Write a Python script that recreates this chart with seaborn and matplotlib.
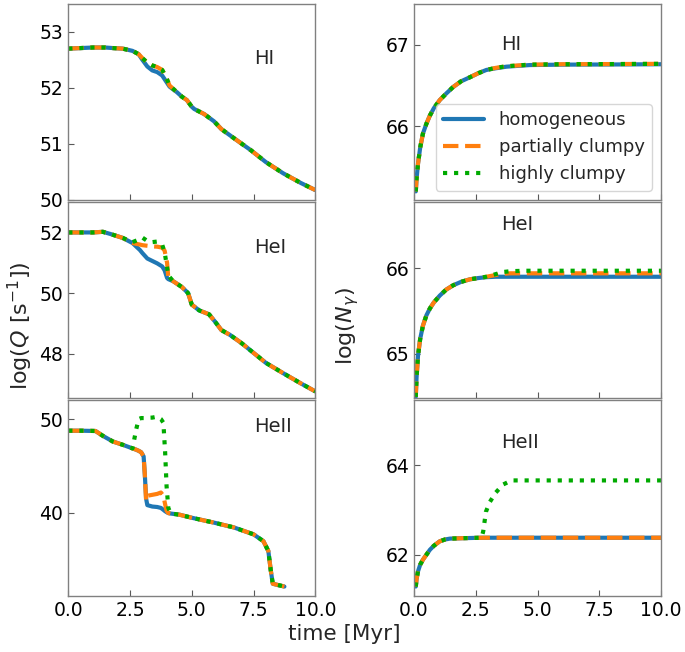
import numpy as np
import pandas as pd
import matplotlib
matplotlib.use("Agg")
import matplotlib.pyplot as plt
from matplotlib.ticker import MultipleLocator, FormatStrFormatter
import seaborn as sns

sns.set_style("white")
plt.rcParams["font.family"] = ["DejaVu Sans"]

# ---- ionising photon rates log(Q) [s^-1] ----
t_q_hi = [0, 0.5, 1.0, 1.5, 1.8, 2.2, 2.6, 2.85, 3.0, 3.2, 3.4, 3.6, 3.8, 3.95,
          4.1, 4.4, 4.6, 4.8, 5.0, 5.1, 5.5, 5.9, 6.2, 6.7, 7.4, 8.0, 8.7, 9.4, 10.0]
q_hi_hom = [52.70, 52.71, 52.72, 52.72, 52.71, 52.70, 52.66, 52.60, 52.50, 52.38,
            52.31, 52.28, 52.22, 52.12, 52.02, 51.92, 51.84, 51.78, 51.66, 51.62,
            51.53, 51.40, 51.26, 51.10, 50.88, 50.67, 50.47, 50.30, 50.17]
q_hi_part = [52.70, 52.71, 52.72, 52.72, 52.71, 52.70, 52.66, 52.60, 52.53, 52.45,
             52.40, 52.37, 52.32, 52.20, 52.04, 51.92, 51.84, 51.78, 51.66, 51.62,
             51.53, 51.40, 51.26, 51.10, 50.88, 50.67, 50.47, 50.30, 50.17]
q_hi_high = [52.70, 52.71, 52.72, 52.72, 52.71, 52.70, 52.66, 52.60, 52.53, 52.45,
             52.40, 52.37, 52.32, 52.20, 52.04, 51.92, 51.84, 51.78, 51.66, 51.62,
             51.53, 51.40, 51.26, 51.10, 50.88, 50.67, 50.47, 50.30, 50.17]

t_q_hei = [0, 0.5, 1.0, 1.4, 1.7, 2.2, 2.6, 2.9, 3.0, 3.2, 3.4, 3.6, 3.8, 3.9, 4.0,
           4.05, 4.25, 4.6, 4.85, 5.0, 5.3, 5.7, 5.95, 6.2, 6.55, 7.0, 7.5, 8.0,
           8.7, 9.4, 10.0]
q_hei_hom = [52.00, 52.00, 52.00, 52.02, 51.95, 51.82, 51.65, 51.42, 51.32, 51.14,
             51.06, 50.98, 50.88, 50.75, 50.50, 50.46, 50.39, 50.20, 50.00, 49.62,
             49.43, 49.30, 49.05, 48.78, 48.62, 48.36, 48.03, 47.70, 47.36, 47.03,
             46.76]
q_hei_part = [52.00, 52.00, 52.00, 52.02, 51.95, 51.82, 51.65, 51.60, 51.58, 51.56,
              51.54, 51.53, 51.50, 51.40, 51.00, 50.50, 50.39, 50.20, 50.00, 49.62,
              49.43, 49.30, 49.05, 48.78, 48.62, 48.36, 48.03, 47.70, 47.36, 47.03,
              46.76]
q_hei_high = [52.00, 52.00, 52.00, 52.02, 51.95, 51.82, 51.68, 51.78, 51.83, 51.72,
              51.68, 51.70, 51.60, 51.35, 50.85, 50.58, 50.39, 50.20, 50.00, 49.62,
              49.43, 49.30, 49.05, 48.78, 48.62, 48.36, 48.03, 47.70, 47.36, 47.03,
              46.76]

t_q_heii = [0, 0.5, 1.1, 1.4, 1.8, 2.2, 2.6, 2.75, 2.85, 2.95, 3.05, 3.1, 3.15, 3.2,
            3.4, 3.6, 3.75, 3.85, 3.92, 3.98, 4.05, 4.15, 4.5, 5.0, 5.9, 6.7, 7.5,
            7.9, 8.1, 8.2, 8.28, 8.75]
q_heii_hom = [48.75, 48.75, 48.72, 48.20, 47.60, 47.25, 46.86, 46.72, 46.60, 46.45,
              46.00, 44.00, 41.50, 40.80, 40.65, 40.60, 40.50, 40.30, 40.15, 40.05,
              39.95, 39.90, 39.78, 39.45, 38.93, 38.42, 37.68, 36.95, 35.90, 33.80,
              32.40, 32.10]
q_heii_part = [48.75, 48.75, 48.72, 48.20, 47.60, 47.25, 46.86, 46.72, 46.60, 46.45,
               46.00, 44.00, 41.30, 41.80, 41.90, 42.00, 42.15, 41.80, 40.90, 40.20,
               39.95, 39.90, 39.78, 39.45, 38.93, 38.42, 37.68, 36.95, 35.90, 33.80,
               32.40, 32.10]
q_heii_high = [48.75, 48.75, 48.72, 48.20, 47.60, 47.25, 46.86, 48.90, 50.00, 50.10,
               50.10, 50.10, 50.12, 50.13, 50.15, 50.25, 50.00, 49.60, 46.50, 42.80,
               40.50, 39.90, 39.78, 39.45, 38.93, 38.42, 37.68, 36.95, 35.90, 33.80,
               32.40, 32.10]

# ---- cumulative photon numbers log(N_gamma) ----
t_n_hi = [0.07, 0.1, 0.16, 0.25, 0.36, 0.5, 0.64, 0.8, 1.04, 1.3, 1.58, 1.9, 2.26,
          2.6, 2.93, 3.3, 3.74, 4.2, 4.69, 6.0, 8.0, 10.0]
n_hi_hom = [65.20, 65.35, 65.54, 65.74, 65.91, 66.03, 66.13, 66.22, 66.32, 66.40,
            66.48, 66.55, 66.60, 66.65, 66.69, 66.71, 66.73, 66.74, 66.75, 66.755,
            66.757, 66.76]
n_hi_part = [65.20, 65.35, 65.54, 65.74, 65.91, 66.03, 66.13, 66.22, 66.32, 66.40,
             66.48, 66.55, 66.60, 66.65, 66.69, 66.715, 66.735, 66.745, 66.755,
             66.76, 66.762, 66.765]
n_hi_high = [65.20, 65.35, 65.54, 65.74, 65.91, 66.03, 66.13, 66.22, 66.32, 66.40,
             66.48, 66.55, 66.60, 66.65, 66.69, 66.715, 66.735, 66.745, 66.755,
             66.76, 66.762, 66.765]

t_n_hei = [0.07, 0.1, 0.16, 0.25, 0.36, 0.5, 0.64, 0.8, 1.04, 1.3, 1.58, 1.9, 2.26,
           2.6, 2.93, 3.3, 3.6, 3.9, 4.5, 6.0, 8.0, 10.0]
n_hei_hom = [64.50, 64.72, 64.98, 65.18, 65.33, 65.45, 65.53, 65.60, 65.68, 65.75,
             65.80, 65.84, 65.87, 65.885, 65.895, 65.90, 65.90, 65.90, 65.90, 65.90,
             65.90, 65.90]
n_hei_part = [64.50, 64.72, 64.98, 65.18, 65.33, 65.45, 65.53, 65.60, 65.68, 65.75,
              65.80, 65.84, 65.87, 65.885, 65.90, 65.92, 65.935, 65.94, 65.94,
              65.94, 65.94, 65.94]
n_hei_high = [64.50, 64.72, 64.98, 65.18, 65.33, 65.45, 65.53, 65.60, 65.68, 65.75,
              65.80, 65.84, 65.87, 65.885, 65.90, 65.93, 65.955, 65.965, 65.97,
              65.97, 65.97, 65.97]

t_n_heii = [0.07, 0.1, 0.16, 0.25, 0.36, 0.5, 0.64, 0.8, 1.04, 1.25, 1.45, 2.0, 2.73,
            2.8, 2.91, 3.07, 3.31, 3.61, 3.95, 5.0, 7.5, 10.0]
n_heii_hom = [61.29, 61.45, 61.63, 61.78, 61.89, 62.00, 62.11, 62.20, 62.30, 62.34,
              62.36, 62.37, 62.38, 62.38, 62.38, 62.38, 62.38, 62.38, 62.38, 62.38,
              62.38, 62.38]
n_heii_part = [61.29, 61.45, 61.63, 61.78, 61.89, 62.00, 62.11, 62.20, 62.30, 62.34,
               62.36, 62.37, 62.38, 62.38, 62.38, 62.38, 62.38, 62.38, 62.38, 62.38,
               62.38, 62.38]
n_heii_high = [61.29, 61.45, 61.63, 61.78, 61.89, 62.00, 62.11, 62.20, 62.30, 62.34,
               62.36, 62.37, 62.38, 62.52, 62.96, 63.18, 63.39, 63.57, 63.66, 63.66,
               63.66, 63.66]

models = ["homogeneous", "partially clumpy", "highly clumpy"]
species = ["HI", "HeI", "HeII"]
colors = ["#1f77b4", "#ff7f0e", "#00aa00"]
styles = ["-", "--", ":"]

left_panels = [
    (t_q_hi, [q_hi_hom, q_hi_part, q_hi_high], (50.0, 53.5), 1),
    (t_q_hei, [q_hei_hom, q_hei_part, q_hei_high], (46.55, 53.0), 2),
    (t_q_heii, [q_heii_hom, q_heii_part, q_heii_high], (31.1, 52.0), 10),
]
right_panels = [
    (t_n_hi, [n_hi_hom, n_hi_part, n_hi_high], (65.1, 67.5), 1),
    (t_n_hei, [n_hei_hom, n_hei_part, n_hei_high], (64.49, 66.77), 1),
    (t_n_heii, [n_heii_hom, n_heii_part, n_heii_high], (61.08, 65.45), 2),
]
left_label_y = [0.72, 0.77, 0.865]
right_label_y = [0.79, 0.885, 0.785]

fig, axes = plt.subplots(3, 2, figsize=(6.85, 6.52), dpi=100)
fig.subplots_adjust(left=0.0997, right=0.965, top=0.994, bottom=0.086,
                    hspace=0.013, wspace=0.40)

spine_gray = "0.5"
tick_fs = 13.5
label_fs = 16

def draw_panel(ax, t, series, ylim, step):
    for name, vals, c, ls in zip(models, series, colors, styles):
        df = pd.DataFrame({"time": t, "value": vals})
        sns.lineplot(data=df, x="time", y="value", ax=ax, color=c, linestyle=ls,
                     lw=3, label=name, estimator=None, sort=False, legend=False)
    ax.set_xlim(0, 10)
    ax.set_ylim(*ylim)
    ax.yaxis.set_major_locator(MultipleLocator(step))
    ax.xaxis.set_major_locator(MultipleLocator(2.5))
    ax.xaxis.set_major_formatter(FormatStrFormatter("%.1f"))
    ax.set_xlabel("")
    ax.set_ylabel("")
    ax.tick_params(direction="in", length=4, width=0.8, color="0.35",
                   labelsize=tick_fs, labelcolor="black", left=True, bottom=True)
    for sp in ax.spines.values():
        sp.set_color(spine_gray)
        sp.set_linewidth(1.0)

for i in range(3):
    axl, axr = axes[i, 0], axes[i, 1]
    draw_panel(axl, *left_panels[i])
    draw_panel(axr, *right_panels[i])
    axl.text(0.752, left_label_y[i], species[i], transform=axl.transAxes,
             fontsize=14, ha="left", va="center")
    axr.text(0.352, right_label_y[i], species[i], transform=axr.transAxes,
             fontsize=14, ha="left", va="center")
    if i < 2:
        axl.tick_params(labelbottom=False)
        axr.tick_params(labelbottom=False)

# shared column labels, centred on the figure
fig.text(0.030, 0.5, r"log($Q$ [s$^{-1}$])", fontsize=label_fs, rotation=90,
         ha="center", va="center")
fig.text(0.508, 0.5, r"log($N_{\gamma}$)", fontsize=label_fs, rotation=90,
         ha="center", va="center")
fig.text(0.502, 0.028, "time [Myr]", fontsize=15.5, ha="center", va="center")

handles = axes[0, 1].get_lines()[:3]
axes[0, 1].legend(handles, models, loc="lower right", fontsize=13,
                  handlelength=2.3)

fig.savefig("out.png", dpi=100)
